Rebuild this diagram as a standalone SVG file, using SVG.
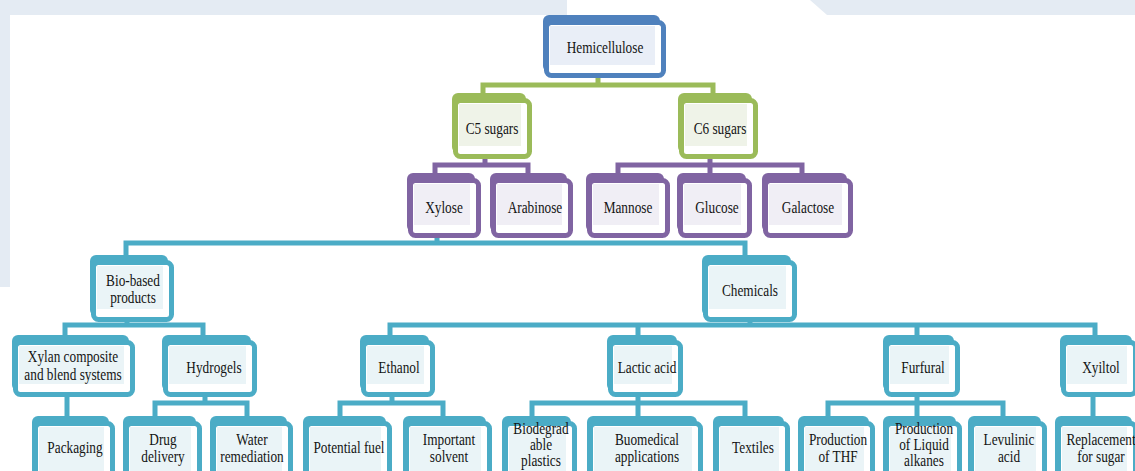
<svg xmlns="http://www.w3.org/2000/svg" width="1135" height="471" viewBox="0 0 1135 471">
<style>
.t{font-family:"Liberation Serif","Times New Roman",serif;font-size:16px;fill:#141414;text-anchor:middle}
.bb{fill:#4f81bd}.fb{fill:#fff;stroke:#4f81bd;stroke-width:5}.ib{fill:#e9eef7}
.bg{fill:#9bbb59}.fg{fill:#fff;stroke:#9bbb59;stroke-width:5}.ig{fill:#eff3e8}
.bp{fill:#8064a2}.fp{fill:#fff;stroke:#8064a2;stroke-width:5}.ip{fill:#f0eef5}
.bc{fill:#4bacc6}.fc{fill:#fff;stroke:#4bacc6;stroke-width:5}.ic{fill:#eaf4f7}
.cg{fill:none;stroke:#9bbb59;stroke-width:5}
.cp{fill:none;stroke:#8064a2;stroke-width:5}
.cc{fill:none;stroke:#4bacc6;stroke-width:5}
.bgd{fill:#e4ebf3}
</style>
<rect width="1135" height="471" fill="#fff"/>
<g id="background">
<rect class="bgd" x="0" y="0" width="567" height="15"/>
<polygon class="bgd" points="810,0 1135,0 1135,15 827,15"/>
<rect class="bgd" x="0" y="0" width="10" height="287"/>
</g>
<g id="connectors">
<path class="cg" d="M598,76V85M483,95V85H713V95"/>
<path class="cp" d="M485,157V165M435,176V165H528V176M710,157V176M618,176V165H802V176"/>
<path class="cc" d="M437,236V243M126,257V243H745V257"/>
<path class="cc" d="M127,320V325M65,337V325H203V337"/>
<path class="cc" d="M750,318V325M390,337V325H1095V337M638,325V337M917,325V337"/>
<path class="cc" d="M67,394V418"/>
<path class="cc" d="M205,394V403M155,418V403H247V418"/>
<path class="cc" d="M392,394V403M340,418V403H443V418"/>
<path class="cc" d="M638,394V418M532,418V403H745V418"/>
<path class="cc" d="M917,394V418M828,418V403H1003V418"/>
<path class="cc" d="M1093,394V418"/>
</g>
<g id="hemicellulose"><rect class="bb" x="543" y="15" width="117" height="57" rx="6"/><rect class="fb" x="546.5" y="22.5" width="117" height="53" rx="5"/><rect class="ib" x="550" y="26" width="105" height="39"/><text class="t" transform="translate(605,53) scale(0.83,1)">Hemicellulose</text></g>
<g id="c5"><rect class="bg" x="452" y="93" width="74" height="60" rx="6"/><rect class="fg" x="455.5" y="100.5" width="74" height="56" rx="5"/><rect class="ig" x="459" y="104" width="62" height="42"/><text class="t" transform="translate(492,134) scale(0.83,1)">C5 sugars</text></g>
<g id="c6"><rect class="bg" x="678" y="93" width="74" height="60" rx="6"/><rect class="fg" x="681.5" y="100.5" width="74" height="56" rx="5"/><rect class="ig" x="685" y="104" width="62" height="42"/><text class="t" transform="translate(720,134) scale(0.83,1)">C6 sugars</text></g>
<g id="xylose"><rect class="bp" x="407" y="173" width="68" height="59" rx="6"/><rect class="fp" x="410.5" y="180.5" width="68" height="55" rx="5"/><rect class="ip" x="414" y="184" width="56" height="41"/><text class="t" transform="translate(444,213) scale(0.83,1)">Xylose</text></g>
<g id="arabinose"><rect class="bp" x="490" y="173" width="77" height="59" rx="6"/><rect class="fp" x="493.5" y="180.5" width="77" height="55" rx="5"/><rect class="ip" x="497" y="184" width="65" height="41"/><text class="t" transform="translate(535,213) scale(0.83,1)">Arabinose</text></g>
<g id="mannose"><rect class="bp" x="586" y="173" width="78" height="59" rx="6"/><rect class="fp" x="589.5" y="180.5" width="78" height="55" rx="5"/><rect class="ip" x="593" y="184" width="66" height="41"/><text class="t" transform="translate(628,213) scale(0.83,1)">Mannose</text></g>
<g id="glucose"><rect class="bp" x="677" y="173" width="69" height="59" rx="6"/><rect class="fp" x="680.5" y="180.5" width="69" height="55" rx="5"/><rect class="ip" x="684" y="184" width="57" height="41"/><text class="t" transform="translate(717,213) scale(0.83,1)">Glucose</text></g>
<g id="galactose"><rect class="bp" x="762" y="173" width="85" height="59" rx="6"/><rect class="fp" x="765.5" y="180.5" width="85" height="55" rx="5"/><rect class="ip" x="769" y="184" width="73" height="41"/><text class="t" transform="translate(808,213) scale(0.83,1)">Galactose</text></g>
<g id="biobased"><rect class="bc" x="90" y="255" width="78" height="61" rx="6"/><rect class="fc" x="93.5" y="262.5" width="78" height="57" rx="5"/><rect class="ic" x="97" y="266" width="66" height="43"/><text class="t" transform="translate(133,286) scale(0.83,1)"><tspan x="0" y="0">Bio-based</tspan><tspan x="0" y="17">products</tspan></text></g>
<g id="chemicals"><rect class="bc" x="702" y="255" width="89" height="61" rx="6"/><rect class="fc" x="705.5" y="262.5" width="89" height="57" rx="5"/><rect class="ic" x="709" y="266" width="77" height="43"/><text class="t" transform="translate(750,296) scale(0.83,1)">Chemicals</text></g>
<g id="xylan"><rect class="bc" x="12" y="335" width="117" height="56" rx="6"/><rect class="fc" x="15.5" y="342.5" width="117" height="52" rx="5"/><rect class="ic" x="19" y="346" width="105" height="38"/><text class="t" transform="translate(73,362) scale(0.83,1)"><tspan x="0" y="0">Xylan composite</tspan><tspan x="0" y="18">and blend systems</tspan></text></g>
<g id="hydrogels"><rect class="bc" x="162" y="335" width="89" height="56" rx="6"/><rect class="fc" x="165.5" y="342.5" width="89" height="52" rx="5"/><rect class="ic" x="169" y="346" width="77" height="38"/><text class="t" transform="translate(214,373) scale(0.83,1)">Hydrogels</text></g>
<g id="ethanol"><rect class="bc" x="360" y="335" width="69" height="56" rx="6"/><rect class="fc" x="363.5" y="342.5" width="69" height="52" rx="5"/><rect class="ic" x="367" y="346" width="57" height="38"/><text class="t" transform="translate(399,373) scale(0.83,1)">Ethanol</text></g>
<g id="lactic"><rect class="bc" x="607" y="335" width="70" height="56" rx="6"/><rect class="fc" x="610.5" y="342.5" width="70" height="52" rx="5"/><rect class="ic" x="614" y="346" width="58" height="38"/><text class="t" transform="translate(647,373) scale(0.83,1)">Lactic acid</text></g>
<g id="furfural"><rect class="bc" x="883" y="335" width="71" height="56" rx="6"/><rect class="fc" x="886.5" y="342.5" width="71" height="52" rx="5"/><rect class="ic" x="890" y="346" width="59" height="38"/><text class="t" transform="translate(923,373) scale(0.83,1)">Furfural</text></g>
<g id="xyiltol"><rect class="bc" x="1060" y="335" width="72" height="56" rx="6"/><rect class="fc" x="1063.5" y="342.5" width="72" height="52" rx="5"/><rect class="ic" x="1067" y="346" width="60" height="38"/><text class="t" transform="translate(1101,373) scale(0.83,1)">Xyiltol</text></g>
<g id="packaging"><rect class="bc" x="32" y="416" width="77" height="62" rx="6"/><rect class="fc" x="35.5" y="423.5" width="77" height="58" rx="5"/><rect class="ic" x="39" y="427" width="65" height="44"/><text class="t" transform="translate(75,453) scale(0.83,1)">Packaging</text></g>
<g id="drug"><rect class="bc" x="123" y="416" width="73" height="62" rx="6"/><rect class="fc" x="126.5" y="423.5" width="73" height="58" rx="5"/><rect class="ic" x="130" y="427" width="61" height="44"/><text class="t" transform="translate(163,445) scale(0.83,1)"><tspan x="0" y="0">Drug</tspan><tspan x="0" y="17">delivery</tspan></text></g>
<g id="water"><rect class="bc" x="210" y="416" width="77" height="62" rx="6"/><rect class="fc" x="213.5" y="423.5" width="77" height="58" rx="5"/><rect class="ic" x="217" y="427" width="65" height="44"/><text class="t" transform="translate(252,445) scale(0.83,1)"><tspan x="0" y="0">Water</tspan><tspan x="0" y="17">remediation</tspan></text></g>
<g id="fuel"><rect class="bc" x="303" y="416" width="83" height="62" rx="6"/><rect class="fc" x="306.5" y="423.5" width="83" height="58" rx="5"/><rect class="ic" x="310" y="427" width="71" height="44"/><text class="t" transform="translate(349,453) scale(0.83,1)">Potential fuel</text></g>
<g id="solvent"><rect class="bc" x="403" y="416" width="83" height="62" rx="6"/><rect class="fc" x="406.5" y="423.5" width="83" height="58" rx="5"/><rect class="ic" x="410" y="427" width="71" height="44"/><text class="t" transform="translate(449,445) scale(0.83,1)"><tspan x="0" y="0">Important</tspan><tspan x="0" y="17">solvent</tspan></text></g>
<g id="plastics"><rect class="bc" x="502" y="416" width="69" height="62" rx="6"/><rect class="fc" x="505.5" y="423.5" width="69" height="58" rx="5"/><rect class="ic" x="509" y="427" width="57" height="44"/><text class="t" transform="translate(541,434) scale(0.83,1)"><tspan x="0" y="0">Biodegrad</tspan><tspan x="0" y="16">able</tspan><tspan x="0" y="32">plastics</tspan></text></g>
<g id="biomedical"><rect class="bc" x="587" y="416" width="110" height="62" rx="6"/><rect class="fc" x="590.5" y="423.5" width="110" height="58" rx="5"/><rect class="ic" x="594" y="427" width="98" height="44"/><text class="t" transform="translate(647,445) scale(0.83,1)"><tspan x="0" y="0">Buomedical</tspan><tspan x="0" y="17">applications</tspan></text></g>
<g id="textiles"><rect class="bc" x="713" y="416" width="71" height="62" rx="6"/><rect class="fc" x="716.5" y="423.5" width="71" height="58" rx="5"/><rect class="ic" x="720" y="427" width="59" height="44"/><text class="t" transform="translate(753,453) scale(0.83,1)">Textiles</text></g>
<g id="thf"><rect class="bc" x="798" y="416" width="71" height="62" rx="6"/><rect class="fc" x="801.5" y="423.5" width="71" height="58" rx="5"/><rect class="ic" x="805" y="427" width="59" height="44"/><text class="t" transform="translate(838,445) scale(0.83,1)"><tspan x="0" y="0">Production</tspan><tspan x="0" y="17">of THF</tspan></text></g>
<g id="alkanes"><rect class="bc" x="883" y="416" width="73" height="62" rx="6"/><rect class="fc" x="886.5" y="423.5" width="73" height="58" rx="5"/><rect class="ic" x="890" y="427" width="61" height="44"/><text class="t" transform="translate(924,434) scale(0.83,1)"><tspan x="0" y="0">Production</tspan><tspan x="0" y="16">of Liquid</tspan><tspan x="0" y="32">alkanes</tspan></text></g>
<g id="levulinic"><rect class="bc" x="968" y="416" width="73" height="62" rx="6"/><rect class="fc" x="971.5" y="423.5" width="73" height="58" rx="5"/><rect class="ic" x="975" y="427" width="61" height="44"/><text class="t" transform="translate(1009,445) scale(0.83,1)"><tspan x="0" y="0">Levulinic</tspan><tspan x="0" y="17">acid</tspan></text></g>
<g id="replacement"><rect class="bc" x="1055" y="416" width="77" height="62" rx="6"/><rect class="fc" x="1058.5" y="423.5" width="77" height="58" rx="5"/><rect class="ic" x="1062" y="427" width="65" height="44"/><text class="t" transform="translate(1101,445) scale(0.83,1)"><tspan x="0" y="0">Replacement</tspan><tspan x="0" y="17">for sugar</tspan></text></g>
</svg>
